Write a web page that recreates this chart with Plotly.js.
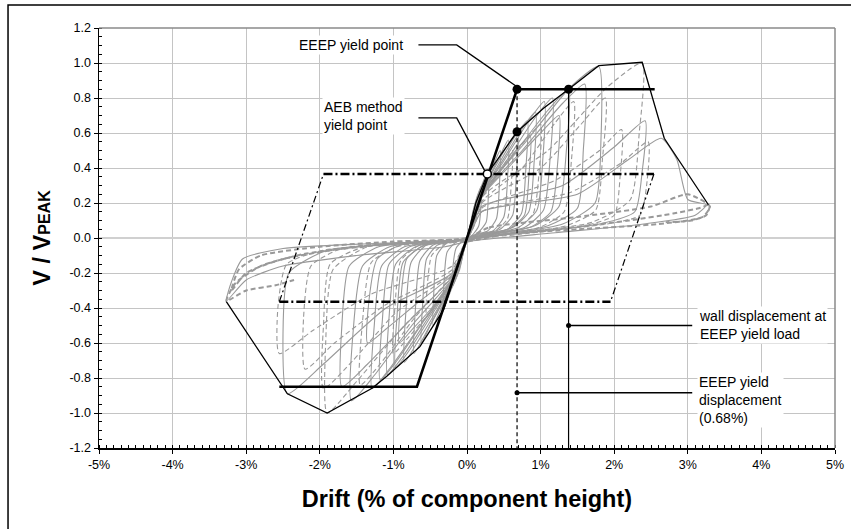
<!DOCTYPE html>
<html>
<head>
<meta charset="utf-8">
<script src="https://cdn.plot.ly/plotly-3.0.1.min.js"></script>
<style>html,body{margin:0;padding:0;background:#fff;}#chart{width:851px;height:529px;}</style>
</head>
<body>
<div id="chart"></div>
<script>
// ---- tick labels ----
const xTickVals = [-5, -4, -3, -2, -1, 0, 1, 2, 3, 4, 5];
const xTickLabels = ['-5%', '-4%', '-3%', '-2%', '-1%', '0%', '1%', '2%', '3%', '4%', '5%'];
const yTickVals = [-1.2, -1.0, -0.8, -0.6, -0.4, -0.2, 0, 0.2, 0.4, 0.6, 0.8, 1.0, 1.2];
const yTickLabels = ['-1.2', '-1.0', '-0.8', '-0.6', '-0.4', '-0.2', '0.0', '0.2', '0.4', '0.6', '0.8', '1.0', '1.2'];

// ---- hysteresis loops (drift %, V/Vpeak) ----
const loop1Drift = [0, 0.08, 0.14, 0.20, 0.19, 0.16, 0.08, 0, -0.08, -0.14, -0.20, -0.19, -0.15, -0.07, 0];
const loop1Shear = [0, 0.15, 0.24, 0.30, 0.18, 0.07, 0.02, -0.01, -0.14, -0.22, -0.28, -0.16, -0.06, -0.02, 0];
const loop2Drift = [0, 0.10, 0.20, 0.30, 0.29, 0.26, 0.15, 0, -0.10, -0.22, -0.32, -0.31, -0.27, -0.14, 0];
const loop2Shear = [0, 0.18, 0.30, 0.40, 0.24, 0.09, 0.03, -0.01, -0.18, -0.30, -0.41, -0.24, -0.08, -0.02, 0];
const loop3Drift = [0, 0.12, 0.25, 0.38, 0.45, 0.44, 0.40, 0.28, 0.12, 0, -0.12, -0.25, -0.38, -0.46, -0.45, -0.41, -0.28, -0.12, 0];
const loop3Shear = [0, 0.20, 0.32, 0.44, 0.50, 0.30, 0.11, 0.04, 0.02, -0.02, -0.19, -0.31, -0.43, -0.50, -0.30, -0.10, -0.03, -0.01, 0];
const loop4Drift = [0, 0.13, 0.30, 0.46, 0.56, 0.55, 0.50, 0.35, 0.15, 0, -0.13, -0.32, -0.50, -0.62, -0.60, -0.55, -0.40, -0.16, 0];
const loop4Shear = [0, 0.20, 0.35, 0.48, 0.56, 0.33, 0.12, 0.04, 0.02, -0.02, -0.20, -0.36, -0.50, -0.60, -0.36, -0.12, -0.04, -0.02, 0];
const loop5Drift = [0, 0.14, 0.35, 0.55, 0.69, 0.67, 0.62, 0.45, 0.18, 0, -0.14, -0.38, -0.58, -0.72, -0.70, -0.64, -0.46, -0.18, 0];
const loop5Shear = [0, 0.21, 0.38, 0.53, 0.61, 0.36, 0.13, 0.05, 0.02, -0.02, -0.21, -0.40, -0.56, -0.66, -0.40, -0.13, -0.04, -0.02, 0];
const loop6Drift = [0, 0.14, 0.40, 0.65, 0.82, 0.80, 0.74, 0.55, 0.22, 0, -0.14, -0.42, -0.68, -0.85, -0.83, -0.76, -0.55, -0.20, 0];
const loop6Shear = [0, 0.21, 0.40, 0.58, 0.67, 0.40, 0.14, 0.05, 0.02, -0.02, -0.20, -0.42, -0.60, -0.71, -0.42, -0.14, -0.04, -0.02, 0];
const loop7Drift = [0, 0.15, 0.45, 0.74, 0.93, 0.91, 0.84, 0.62, 0.25, 0, -0.15, -0.48, -0.78, -0.97, -0.95, -0.87, -0.62, -0.25, 0];
const loop7Shear = [0, 0.22, 0.42, 0.62, 0.72, 0.42, 0.15, 0.06, 0.02, -0.02, -0.21, -0.44, -0.64, -0.74, -0.44, -0.14, -0.05, -0.02, 0];
const loop8Drift = [0, 0.15, 0.50, 0.84, 1.05, 1.03, 0.95, 0.70, 0.28, 0, -0.15, -0.52, -0.86, -1.08, -1.06, -0.97, -0.70, -0.28, 0];
const loop8Shear = [0, 0.22, 0.44, 0.67, 0.78, 0.45, 0.16, 0.06, 0.02, -0.02, -0.21, -0.45, -0.67, -0.78, -0.46, -0.15, -0.05, -0.02, 0];
const loop9Drift = [0, 0.16, 0.55, 0.93, 1.16, 1.13, 1.04, 0.78, 0.30, 0, -0.16, -0.58, -0.95, -1.18, -1.15, -1.06, -0.78, -0.30, 0];
const loop9Shear = [0, 0.22, 0.45, 0.69, 0.80, 0.46, 0.16, 0.06, 0.02, -0.02, -0.22, -0.47, -0.70, -0.81, -0.47, -0.15, -0.05, -0.02, 0];
const loop10Drift = [0, 0.17, 0.62, 1.10, 1.38, 1.35, 1.25, 0.92, 0.35, 0, -0.17, -0.62, -1.04, -1.29, -1.26, -1.16, -0.85, -0.32, 0];
const loop10Shear = [0, 0.23, 0.47, 0.73, 0.85, 0.50, 0.18, 0.07, 0.02, -0.02, -0.22, -0.49, -0.74, -0.86, -0.50, -0.16, -0.05, -0.02, 0];
const loop11Drift = [0, 0.18, 0.75, 1.20, 1.45, 1.42, 1.32, 0.98, 0.38, 0, -0.18, -0.72, -1.18, -1.45, -1.42, -1.30, -0.95, -0.38, 0];
const loop11Shear = [0, 0.20, 0.40, 0.66, 0.78, 0.45, 0.15, 0.06, 0.02, -0.02, -0.20, -0.46, -0.72, -0.84, -0.48, -0.14, -0.05, -0.02, 0];
const loop12Drift = [0, 0.20, 0.80, 1.40, 1.79, 1.82, 1.74, 1.30, 0.50, 0, -0.18, -0.75, -1.25, -1.57, -1.55, -1.42, -1.05, -0.42, 0];
const loop12Shear = [0, 0.25, 0.55, 0.86, 0.98, 0.56, 0.20, 0.08, 0.02, -0.02, -0.22, -0.50, -0.78, -0.93, -0.55, -0.16, -0.05, -0.02, 0];
const loop13Drift = [0, 0.20, 1.00, 1.55, 1.88, 1.84, 1.75, 1.35, 0.55, 0, -0.20, -0.85, -1.50, -1.90, -1.92, -1.82, -1.35, -0.55, 0];
const loop13Shear = [0, 0.20, 0.40, 0.65, 0.80, 0.45, 0.16, 0.07, 0.02, -0.02, -0.22, -0.50, -0.82, -1.00, -0.60, -0.18, -0.05, -0.02, 0];
const loop14Drift = [0, 0.22, 1.10, 1.90, 2.38, 2.34, 2.22, 1.70, 0.70, 0, -0.20, -0.95, -1.55, -1.95, -1.95, -1.86, -1.40, -0.55, 0];
const loop14Shear = [0, 0.24, 0.50, 0.86, 1.00, 0.60, 0.22, 0.09, 0.03, -0.02, -0.20, -0.42, -0.70, -0.86, -0.50, -0.15, -0.05, -0.02, 0];
const loop15Drift = [0, 0.20, 1.30, 2.00, 2.42, 2.38, 2.28, 1.80, 0.75, 0, -0.20, -1.10, -1.95, -2.44, -2.50, -2.42, -1.90, -0.80, 0];
const loop15Shear = [0, 0.18, 0.30, 0.52, 0.67, 0.38, 0.15, 0.08, 0.03, -0.02, -0.20, -0.40, -0.72, -0.89, -0.55, -0.20, -0.07, -0.03, 0];
const loop16Drift = [0, 0.20, 1.40, 2.10, 2.46, 2.44, 2.35, 1.90, 0.80, 0, -0.20, -1.30, -2.10, -2.55, -2.57, -2.45, -1.95, -0.85, 0];
const loop16Shear = [0, 0.15, 0.26, 0.43, 0.55, 0.30, 0.13, 0.08, 0.03, -0.02, -0.16, -0.32, -0.53, -0.66, -0.40, -0.15, -0.07, -0.03, 0];
const loop17Drift = [0, 0.20, 1.50, 2.20, 2.64, 2.85, 3.00, 3.25, 3.10, 2.40, 1.20, 0, -0.30, -1.50, -2.50, -3.00, -3.27, -3.20, -3.05, -2.50, -1.20, 0];
const loop17Shear = [0, 0.15, 0.25, 0.45, 0.57, 0.45, 0.22, 0.19, 0.13, 0.08, 0.03, -0.02, -0.05, -0.10, -0.16, -0.24, -0.36, -0.25, -0.12, -0.06, -0.03, 0];
const loop18Drift = [0, 0.30, 1.50, 2.50, 3.00, 3.30, 3.20, 2.60, 1.50, 0.50, 0, -0.50, -1.50, -2.50, -3.00, -3.20, -3.10, -2.80, -2.00, -1.00, 0];
const loop18Shear = [0, 0.06, 0.12, 0.18, 0.25, 0.18, 0.12, 0.08, 0.05, 0.02, -0.02, -0.02, -0.05, -0.12, -0.20, -0.30, -0.18, -0.10, -0.05, -0.02, 0];
const loop19Drift = [0, 0.20, 1.20, 1.80, 2.10, 2.08, 2.00, 1.60, 0.70, 0, -0.20, -1.10, -1.80, -2.20, -2.22, -2.12, -1.70, -0.70, 0];
const loop19Shear = [0, 0.17, 0.33, 0.50, 0.62, 0.35, 0.13, 0.07, 0.02, -0.02, -0.18, -0.38, -0.60, -0.75, -0.45, -0.16, -0.06, -0.02, 0];
const loop20Drift = [0, 0.18, 0.75, 1.30, 1.60, 1.58, 1.50, 1.10, 0.45, 0, -0.18, -0.70, -1.10, -1.35, -1.33, -1.22, -0.90, -0.35, 0];
const loop20Shear = [0, 0.23, 0.50, 0.77, 0.88, 0.50, 0.17, 0.07, 0.02, -0.02, -0.20, -0.38, -0.52, -0.60, -0.35, -0.12, -0.04, -0.02, 0];
const loop21Drift = [0, 0.14, 0.38, 0.55, 0.62, 0.60, 0.55, 0.38, 0.15, 0, -0.13, -0.32, -0.48, -0.55, -0.54, -0.48, -0.33, -0.13, 0];
const loop21Shear = [0, 0.19, 0.34, 0.45, 0.50, 0.30, 0.11, 0.04, 0.02, -0.02, -0.19, -0.32, -0.41, -0.45, -0.27, -0.10, -0.04, -0.02, 0];
const loop22Drift = [0, 0.15, 0.45, 0.70, 0.86, 0.84, 0.78, 0.56, 0.22, 0, -0.15, -0.48, -0.76, -0.92, -0.90, -0.82, -0.58, -0.22, 0];
const loop22Shear = [0, 0.20, 0.38, 0.52, 0.58, 0.35, 0.13, 0.05, 0.02, -0.02, -0.20, -0.40, -0.53, -0.60, -0.36, -0.12, -0.04, -0.02, 0];
const loop23Drift = [0, 0.15, 0.48, 0.82, 1.00, 0.98, 0.90, 0.66, 0.26, 0, -0.15, -0.50, -0.82, -1.00, -0.98, -0.90, -0.64, -0.26, 0];
const loop23Shear = [0, 0.21, 0.40, 0.57, 0.65, 0.38, 0.14, 0.05, 0.02, -0.02, -0.20, -0.42, -0.58, -0.66, -0.40, -0.13, -0.04, -0.02, 0];
const loop24Drift = [0, 0.17, 0.60, 1.00, 1.25, 1.23, 1.14, 0.85, 0.33, 0, -0.18, -0.80, -1.35, -1.70, -1.70, -1.60, -1.20, -0.48, 0];
const loop24Shear = [0, 0.22, 0.42, 0.60, 0.70, 0.42, 0.15, 0.06, 0.02, -0.02, -0.21, -0.48, -0.72, -0.85, -0.50, -0.16, -0.05, -0.02, 0];
const loop25Drift = [-0.20, -1.20, -2.20, -2.80, -3.15, -3.27, -3.00, -2.60, -2.35];
const loop25Shear = [-0.01, -0.04, -0.09, -0.16, -0.26, -0.36, -0.30, -0.27, -0.24];
const loop26Drift = [0.20, 1.20, 2.20, 2.80, 3.15, 3.30, 3.25, 3.05, 2.70];
const loop26Shear = [0.01, 0.05, 0.10, 0.14, 0.17, 0.19, 0.13, 0.10, 0.09];

// ---- envelope and idealisations ----
const envelopeDrift = [-3.27, -2.44, -1.90, -1.29, -1.09, -0.64, -0.32, 0, 0.12, 0.276, 0.68, 1.04, 1.38, 1.79, 2.38, 2.68, 3.28];
const envelopeShear = [-0.364, -0.89, -1.00, -0.859, -0.79, -0.621, -0.411, 0, 0.20, 0.366, 0.607, 0.741, 0.85, 0.985, 1.004, 0.57, 0.19];
const eeepDrift = [-2.55, -0.68, 0.68, 2.55];
const eeepShear = [-0.85, -0.85, 0.85, 0.85];
const aebTopDrift = [-1.95, 2.54];
const aebTopShear = [0.366, 0.366];
const aebBottomDrift = [-2.55, 1.95];
const aebBottomShear = [-0.364, -0.364];
const aebLeftDrift = [-2.55, -1.95];
const aebLeftShear = [-0.364, 0.366];
const aebRightDrift = [2.54, 1.95];
const aebRightShear = [0.366, -0.364];
const yieldDispDrift = [0.68, 0.68];
const yieldDispShear = [0.85, -1.2];
const wallDispDrift = [1.38, 1.38];
const wallDispShear = [0.85, -1.2];
const pointDrift = [0.68, 1.38, 0.68];
const pointShear = [0.85, 0.85, 0.607];
const aebPointDrift = [0.276];
const aebPointShear = [0.366];
const leaderDotDrift = [1.38, 0.68];
const leaderDotShear = [-0.50, -0.884];

const loops = [
  [loop1Drift, loop1Shear], [loop2Drift, loop2Shear], [loop3Drift, loop3Shear], [loop4Drift, loop4Shear],
  [loop5Drift, loop5Shear], [loop6Drift, loop6Shear], [loop7Drift, loop7Shear], [loop8Drift, loop8Shear],
  [loop9Drift, loop9Shear], [loop10Drift, loop10Shear], [loop11Drift, loop11Shear], [loop12Drift, loop12Shear],
  [loop13Drift, loop13Shear], [loop14Drift, loop14Shear], [loop15Drift, loop15Shear], [loop16Drift, loop16Shear],
  [loop17Drift, loop17Shear], [loop18Drift, loop18Shear], [loop19Drift, loop19Shear], [loop20Drift, loop20Shear],
  [loop21Drift, loop21Shear], [loop22Drift, loop22Shear], [loop23Drift, loop23Shear], [loop24Drift, loop24Shear],
  [loop25Drift, loop25Shear], [loop26Drift, loop26Shear]
];
const dashedLoops = new Set([11, 13, 14, 16, 18, 19, 21, 23, 25, 26]);

const GRAY = '#999999';
const traces = [];
loops.forEach(function (lp, i) {
  const n = i + 1;
  traces.push({
    x: lp[0], y: lp[1], type: 'scatter', mode: 'lines',
    line: {color: GRAY, width: (n === 18 || n === 25 || n === 26) ? 2 : 1.1, shape: 'spline', smoothing: 0.6,
           dash: dashedLoops.has(n) ? '5px,3px' : 'solid'}
  });
});

function line(x, y, width, dash) {
  return {x: x, y: y, type: 'scatter', mode: 'lines', line: {color: '#000', width: width, dash: dash || 'solid'}};
}
traces.push(line(aebTopDrift, aebTopShear, 2.5, '9px,3px,2px,3px'));
traces.push(line(aebBottomDrift, aebBottomShear, 2.5, '9px,3px,2px,3px'));
traces.push(line(aebLeftDrift, aebLeftShear, 1.2, '7px,3px,2px,3px'));
traces.push(line(aebRightDrift, aebRightShear, 1.2, '7px,3px,2px,3px'));
traces.push(line(yieldDispDrift, yieldDispShear, 1.2, '4px,3px'));
traces.push(line(wallDispDrift, wallDispShear, 1.2));
traces.push(line(envelopeDrift, envelopeShear, 1.3));
traces.push(line(eeepDrift, eeepShear, 2.6));
traces.push({x: pointDrift, y: pointShear, type: 'scatter', mode: 'markers',
  marker: {color: '#000', size: 9}});
traces.push({x: aebPointDrift, y: aebPointShear, type: 'scatter', mode: 'markers',
  marker: {color: '#fff', size: 8, line: {color: '#000', width: 1.5}}});
traces.push({x: leaderDotDrift, y: leaderDotShear, type: 'scatter', mode: 'markers',
  marker: {color: '#000', size: 5}});

const FONT = '"Liberation Sans", Arial, Helvetica, sans-serif';

const layout = {
  width: 851, height: 529,
  margin: {l: 99, r: 16, t: 28, b: 81},
  paper_bgcolor: '#fff', plot_bgcolor: '#fff',
  font: {family: FONT, color: '#000', size: 12},
  showlegend: false,
  hovermode: false,
  xaxis: {
    range: [-5, 5], tickmode: 'array', tickvals: xTickVals, ticktext: xTickLabels,
    showgrid: true, gridcolor: '#c4c4c4', gridwidth: 1, zeroline: false,
    showline: true, linecolor: '#000', linewidth: 1.5,
    ticks: 'outside', ticklen: 4, tickcolor: '#000', tickwidth: 1,
    tickfont: {size: 12.5, family: FONT},
    minor: {tickmode: 'linear', tick0: 0, dtick: 0.1, ticks: 'inside', ticklen: 3, tickcolor: '#000', showgrid: false},
    title: {text: '<b>Drift (% of component height)</b>', font: {size: 23.5, family: FONT}, standoff: 20}
  },
  yaxis: {
    range: [-1.2, 1.2], tickmode: 'array', tickvals: yTickVals, ticktext: yTickLabels,
    showgrid: true, gridcolor: '#c4c4c4', gridwidth: 1,
    zeroline: true, zerolinecolor: '#d0d0d0', zerolinewidth: 2,
    showline: true, linecolor: '#000', linewidth: 1.5,
    ticks: 'outside', ticklen: 4, tickcolor: '#000', tickwidth: 1,
    tickfont: {size: 12.5, family: FONT},
    minor: {tickmode: 'linear', tick0: 0, dtick: 0.05, ticks: 'inside', ticklen: 3, tickcolor: '#000', showgrid: false},
    title: {text: '<b>V / V<span style="font-size:16px">PEAK</span></b>', font: {size: 23.5, family: FONT}, standoff: 12}
  },
  shapes: [
    {type: 'line', xref: 'paper', yref: 'paper', x0: 0, x1: 1, y0: 1, y1: 1, line: {color: '#8a8a8a', width: 1.5}},
    {type: 'line', xref: 'paper', yref: 'paper', x0: 1, x1: 1, y0: 0, y1: 1, line: {color: '#8a8a8a', width: 1.5}},
    {type: 'rect', xref: 'paper', yref: 'paper', x0: -0.1236, x1: 1.2, y0: -0.3, y1: 1.0548, line: {color: '#000', width: 1.5}},
    {type: 'path', xref: 'x', yref: 'y', path: 'M -0.66,1.103 L -0.14,1.103 L 0.66,0.87', line: {color: '#000', width: 1.3}},
    {type: 'path', xref: 'x', yref: 'y', path: 'M -0.66,0.686 L -0.14,0.686 L 0.24,0.385', line: {color: '#000', width: 1.3}},
    {type: 'line', xref: 'x', yref: 'y', x0: 1.38, x1: 3.06, y0: -0.50, y1: -0.50, line: {color: '#000', width: 1.5}},
    {type: 'line', xref: 'x', yref: 'y', x0: 0.68, x1: 3.06, y0: -0.884, y1: -0.884, line: {color: '#000', width: 1.5}}
  ],
  annotations: [
    {x: -2.31, y: 1.103, xref: 'x', yref: 'y', text: 'EEEP yield point', showarrow: false,
     xanchor: 'left', yanchor: 'middle', align: 'left', bgcolor: '#fff', font: {size: 14, family: FONT}},
    {x: -1.974, y: 0.697, xref: 'x', yref: 'y', text: 'AEB method<br>yield point', showarrow: false,
     xanchor: 'left', yanchor: 'middle', align: 'left', bgcolor: '#fff', font: {size: 14, family: FONT}},
    {x: 3.13, y: -0.497, xref: 'x', yref: 'y', text: 'wall displacement at<br>EEEP yield load', showarrow: false,
     xanchor: 'left', yanchor: 'middle', align: 'left', bgcolor: '#fff', font: {size: 14, family: FONT}},
    {x: 3.13, y: -0.926, xref: 'x', yref: 'y', text: 'EEEP yield<br>displacement<br>(0.68%)', showarrow: false,
     xanchor: 'left', yanchor: 'middle', align: 'left', bgcolor: '#fff', font: {size: 14, family: FONT}}
  ]
};

Plotly.newPlot('chart', traces, layout, {staticPlot: true, displayModeBar: false});
</script>
</body>
</html>
